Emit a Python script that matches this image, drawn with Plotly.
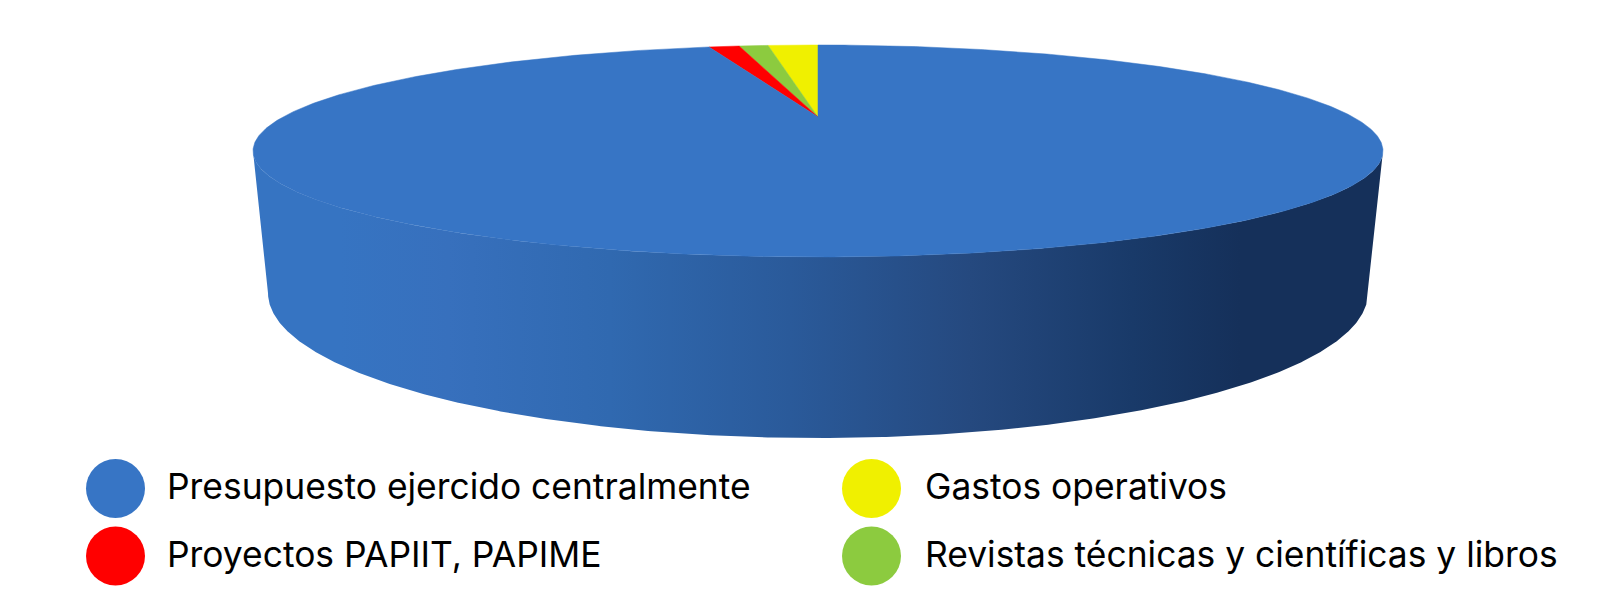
import numpy as np
import plotly.graph_objects as go

# Data (share of budget, %)
categories = ["Gastos operativos", "Revistas técnicas y científicas y libros",
              "Proyectos PAPIIT, PAPIME", "Presupuesto ejercido centralmente"]
values = [1.41, 0.82, 0.86, 96.91]
colors = ["#f0f000", "#8ccb3f", "#ff0000", "#3775c5"]

# Drawing geometry (pixel-based axes; the page body has an 8 px margin)
W, H, PAGE_MARGIN = 1600, 600, 8
CX, TOP_CY, TOP_RX, TOP_RY = 818, 151, 565, 106
APEX_Y = 117
BOT_CX, BOT_CY, BOT_RX, BOT_RY = 818, 293, 550, 145
SIDE_SCALE = [[0.0, "#3674c2"], [0.12, "#3770bd"], [0.3, "#3069b0"], [0.5, "#2a5a9a"],
              [0.7, "#25497f"], [0.88, "#193a69"], [1.0, "#15305a"]]

LEGEND = {  # category -> marker x, marker y, label x
    "Presupuesto ejercido centralmente": (115.5, 488.5, 165),
    "Proyectos PAPIIT, PAPIME": (115.5, 556, 165),
    "Gastos operativos": (871.5, 488.5, 923),
    "Revistas técnicas y científicas y libros": (871.5, 556, 923),
}

fig = go.Figure()

# Side wall: lower half of the top ellipse + lower half of the bottom ellipse
t = np.linspace(np.pi, 0, 481)
xs = np.concatenate([CX + TOP_RX * np.cos(t), (BOT_CX + BOT_RX * np.cos(t))[::-1]])
ys = np.concatenate([TOP_CY + TOP_RY * np.sin(t), (BOT_CY + BOT_RY * np.sin(t))[::-1]])
fig.add_trace(go.Scatter(
    x=xs, y=ys, mode="lines", line=dict(width=0), fill="toself",
    fillgradient=dict(type="horizontal", colorscale=SIDE_SCALE, start=340, stop=1240),
    hoverinfo="skip", showlegend=False))

# Top face: wedges run counter-clockwise from 12 o'clock
total = sum(values)
start = 0.0
for name, v, c in zip(categories, values, colors):
    end = start + v / total
    a = np.linspace(start, end, max(3, int(v * 8))) * 2 * np.pi
    x = np.concatenate([[CX], CX - TOP_RX * np.sin(a), [CX]])
    y = np.concatenate([[APEX_Y], TOP_CY - TOP_RY * np.cos(a), [APEX_Y]])
    fig.add_trace(go.Scatter(x=x, y=y, mode="lines", line=dict(width=0.5, color=c),
                             fill="toself", fillcolor=c, name=name, showlegend=False,
                             hovertemplate=f"{name}<br>{v}%<extra></extra>"))
    start = end

# Legend
for name, c in zip(categories, colors):
    mx, my, lx = LEGEND[name]
    fig.add_trace(go.Scatter(x=[mx], y=[my], mode="markers",
                             marker=dict(size=59, color=c, line=dict(width=0)),
                             hoverinfo="skip", showlegend=False))
    fig.add_annotation(x=lx, y=my - 2, text=name, showarrow=False, xanchor="left", yanchor="middle",
                       font=dict(family="Inter", size=35.4, color="#000000"))

fig.update_xaxes(range=[PAGE_MARGIN, W], visible=False, fixedrange=True)
fig.update_yaxes(range=[H, PAGE_MARGIN], visible=False, fixedrange=True)
fig.update_layout(width=W - PAGE_MARGIN, height=H - PAGE_MARGIN, margin=dict(l=0, r=0, t=0, b=0),
                  paper_bgcolor="white", plot_bgcolor="white")
fig.write_html("out.html")
